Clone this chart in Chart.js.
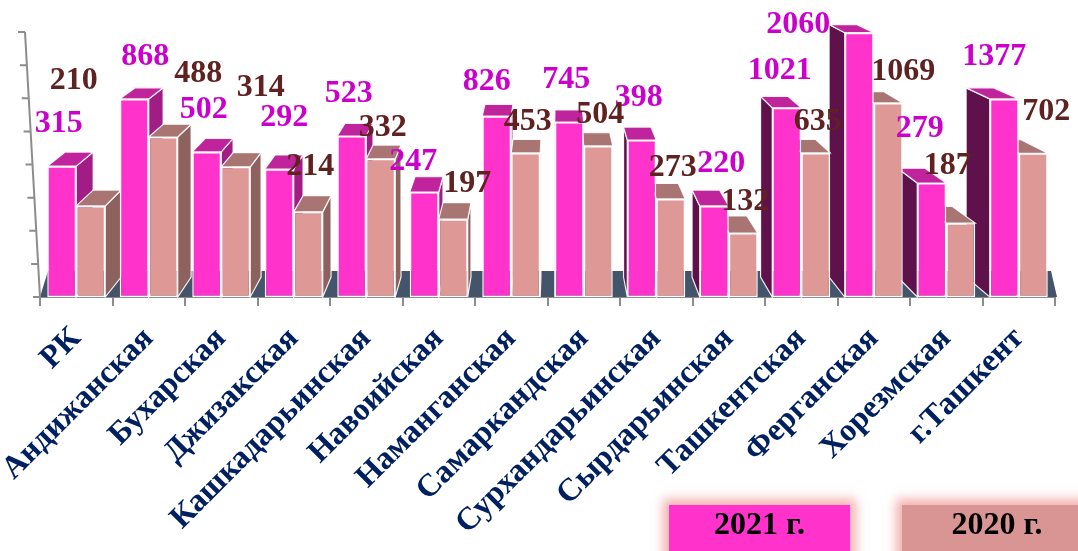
<!DOCTYPE html>
<html lang="ru">
<head>
<meta charset="utf-8">
<script src="https://cdn.jsdelivr.net/npm/chart.js@4.4.1/dist/chart.umd.min.js"></script>
<style>
    html, body { margin: 0; padding: 0; background: #fff; overflow: hidden; }
    #wrap { position: relative; width: 1078px; height: 551px; overflow: hidden; }
    #legend .key {
        position: absolute;
        top: 505px;
        height: 58px;
        line-height: 56px;
        text-align: center;
        font: bold 32px "Liberation Serif", "Times New Roman", serif;
        color: #000;
        box-shadow: 0 0 10px 6px rgba(240, 150, 150, 0.75);
    }
    #legend .key:nth-child(1) { left: 669px; width: 181px; }
    #legend .key:nth-child(2) { left: 902px; width: 190px; }
</style>
</head>
<body>
<div id="wrap">
    <canvas id="regionChart" width="1078" height="551"></canvas>
    <div id="legend"></div>
</div>
<script>
// Категории (области)
const categories = [
    "РК", "Андижанская", "Бухарская", "Джизакская", "Кашкадарьинская",
    "Навоийская", "Наманганская", "Самаркандская", "Сурхандарьинская",
    "Сырдарьинская", "Ташкентская", "Ферганская", "Хорезмская", "г.Ташкент"
];

// Высота столбцов (в делениях оси)
const bar2021 = [3.95, 5.98, 4.38, 3.86, 4.86, 3.17, 5.46, 5.28, 4.74, 2.75, 5.71, 7.98, 3.44, 5.98];
const bar2020 = [2.75, 4.83, 3.93, 2.57, 4.17, 2.35, 4.35, 4.56, 2.96, 1.93, 4.35, 5.86, 2.23, 4.34];

// Подписи над столбцами
const label2021 = [315, 868, 502, 292, 523, 247, 826, 745, 398, 220, 1021, 2060, 279, 1377];
const label2020 = [210, 488, 314, 214, 332, 197, 453, 504, 273, 132, 635, 1069, 187, 702];

// Деления оси Y (без подписей)
const yTicks = [0, 1, 2, 3, 4, 5, 6, 7, 8];

const seriesNames = ["2021 г.", "2020 г."];

// ручные сдвиги подписей (как в оригинале)
const nudge2021 = { 1: [14, 0], 3: [8, -9], 5: [-8, 12], 6: [-7, 8], 9: [10, 0], 10: [-4, 5], 11: [-58, 34], 12: [-9, -12], 13: [-7, 0] };
const nudge2020 = { 0: [-19, -94], 1: [33, -32], 2: [23, -48], 3: [0, -14], 5: [12, -4], 11: [13, 0], 12: [-15, -26], 13: [11, -11] };

const FONT = '"Liberation Serif", "Times New Roman", serif';

// Цвета граней
const faces = [
    { top: "#C0249C", right: "#A21C86", left: "#5E114A", text: "#CC00CC", nudge: nudge2021, labels: label2021 },
    { top: "#A87572", right: "#8D615D", left: "#7A4E4B", text: "#5F2220", nudge: nudge2020, labels: label2020 },
];

// Псевдо-3D: пол, боковые и верхние грани
const VX = 560, VY = -147;
function offX(x) { return x < VX ? (VX - x) * 0.035 : (VX - x) * 0.055; }
function offY(y) { return (VY - y) * 0.045; }

function poly(ctx, pts, fill) {
    ctx.beginPath();
    ctx.moveTo(pts[0][0], pts[0][1]);
    for (let i = 1; i < pts.length; i++) ctx.lineTo(pts[i][0], pts[i][1]);
    ctx.closePath();
    ctx.fillStyle = fill;
    ctx.fill();
    ctx.strokeStyle = "rgba(255,255,255,0.9)";
    ctx.lineWidth = 1.2;
    ctx.stroke();
}

const depthPlugin = {
    id: "depth",
    beforeDatasetsDraw(chart) {
        const ctx = chart.ctx;
        const area = chart.chartArea;
        const base = chart.scales.y.getPixelForValue(0);

        ctx.save();
        // пол
        ctx.beginPath();
        ctx.moveTo(area.left, base);
        ctx.lineTo(area.left + 8, base - 26);
        ctx.lineTo(area.right - 4, base - 26);
        ctx.lineTo(area.right + 2, base);
        ctx.closePath();
        ctx.fillStyle = "#44546A";
        ctx.fill();

        // грани столбцов, от краёв к центру
        const items = [];
        chart.data.datasets.forEach((ds, di) => {
            chart.getDatasetMeta(di).data.forEach((bar) => items.push({ bar, di }));
        });
        items.sort((a, b) => Math.abs(b.bar.x - VX) - Math.abs(a.bar.x - VX));

        items.forEach(({ bar, di }) => {
            const { x, y, base: b, width } = bar.getProps(["x", "y", "base", "width"], true);
            const xl = x - width / 2, xr = x + width / 2;
            const c = faces[di];
            const sx = x < VX ? xr : xl;
            poly(ctx, [
                [sx, y], [sx + offX(sx), y + offY(y)],
                [sx + offX(sx), b + offY(b)], [sx, b]
            ], x < VX ? c.right : c.left);
            poly(ctx, [
                [xl, y], [xr, y],
                [xr + offX(xr), y + offY(y)], [xl + offX(xl), y + offY(y)]
            ], c.top);
        });
        ctx.restore();
    },
    afterDatasetsDraw(chart) {
        const ctx = chart.ctx;
        ctx.save();
        ctx.font = "bold 32px " + FONT;
        ctx.textAlign = "center";
        ctx.textBaseline = "middle";
        chart.data.datasets.forEach((ds, di) => {
            const c = faces[di];
            chart.getDatasetMeta(di).data.forEach((bar, i) => {
                const n = c.nudge[i] || [0, 0];
                const px = di === 0 ? bar.x - 3 : bar.x + 2;
                const py = di === 0 ? bar.y - 42 : bar.y - 31;
                ctx.fillStyle = c.text;
                ctx.fillText(String(c.labels[i]), px + n[0], py + n[1]);
            });
        });
        ctx.restore();
    },
    afterDraw(chart) {
        // наклонная ось Y с делениями
        const ctx = chart.ctx;
        const ys = chart.scales.y;
        const area = chart.chartArea;
        const bottom = ys.getPixelForValue(0);
        const top = ys.getPixelForValue(yTicks[yTicks.length - 1]);
        const axisX = (py) => area.left - 15 * (bottom - py) / (bottom - top);
        ctx.save();
        ctx.strokeStyle = "#8c8c8c";
        ctx.lineWidth = 2;
        ctx.beginPath();
        ctx.moveTo(axisX(top), top);
        ctx.lineTo(axisX(bottom), bottom);
        yTicks.forEach((v) => {
            const py = ys.getPixelForValue(v);
            ctx.moveTo(axisX(py) - 7, py);
            ctx.lineTo(axisX(py), py);
        });
        ctx.stroke();
        ctx.restore();
    }
};

const ctx = document.getElementById("regionChart").getContext("2d");
const chart = new Chart(ctx, {
    type: "bar",
    data: {
        labels: categories,
        datasets: [
            {
                label: seriesNames[0],
                data: bar2021,
                backgroundColor: "#FF33CC",
                borderColor: "#FFFFFF",
                borderWidth: 1.5,
                borderSkipped: false,
            },
            {
                label: seriesNames[1],
                data: bar2020,
                backgroundColor: "#DE9996",
                borderColor: "#FFFFFF",
                borderWidth: 1.5,
                borderSkipped: false,
            },
        ],
    },
    options: {
        responsive: false,
        animation: false,
        layout: { padding: { top: 32, left: 40, right: 23, bottom: 0 } },
        datasets: { bar: { categoryPercentage: 0.8, barPercentage: 1.0 } },
        plugins: {
            legend: { display: false },
            tooltip: { enabled: false },
        },
        scales: {
            x: {
                grid: {
                    display: true,
                    drawOnChartArea: false,
                    drawTicks: true,
                    tickLength: 9,
                    color: "#8c8c8c",
                    lineWidth: 2,
                    offset: true,
                },
                border: { display: true, color: "#8c8c8c", width: 2 },
                ticks: {
                    color: "#002060",
                    font: { family: FONT, weight: "bold", size: 32 },
                    minRotation: 45,
                    maxRotation: 45,
                    autoSkip: false,
                    padding: 14,
                },
                afterFit(scale) { scale.height = 254; },
            },
            y: {
                display: false,
                min: 0,
                max: 8,
            },
        },
    },
    plugins: [depthPlugin],
});

// Легенда HTML из наборов данных
const legendEl = document.getElementById("legend");
chart.data.datasets.forEach((ds) => {
    const key = document.createElement("div");
    key.className = "key";
    key.style.background = ds.backgroundColor === "#DE9996" ? "#D99594" : ds.backgroundColor;
    key.textContent = ds.label;
    legendEl.appendChild(key);
});
</script>
</body>
</html>
